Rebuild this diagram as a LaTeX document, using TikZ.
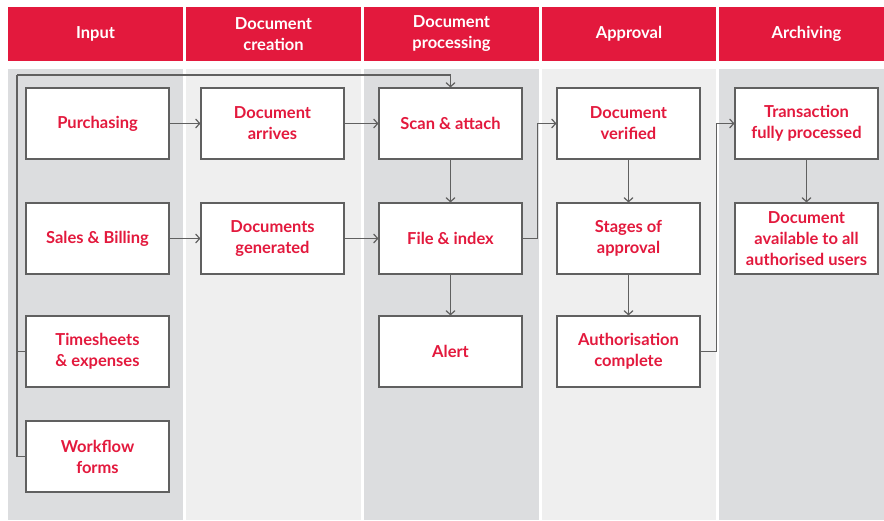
\documentclass[tikz,border=0pt]{standalone}
\usepackage{fontspec}
\setmainfont{Lato}
\usetikzlibrary{arrows.meta}
\definecolor{hdred}{HTML}{E3193D}
\definecolor{bgdark}{HTML}{DCDDDF}
\definecolor{bglight}{HTML}{EFEFEF}
\definecolor{linegray}{HTML}{606060}
\begin{document}
\begin{tikzpicture}[x=1pt,y=-1pt,
  hdr/.style={fill=hdred, text=white, minimum width=175pt, minimum height=54pt, inner sep=0pt, align=center, font=\fontsize{16.5}{21}\selectfont\bfseries},
  box/.style={draw=linegray, line width=1.1pt, fill=white, minimum width=143pt, minimum height=71pt, inner sep=0pt, text=hdred, align=center, font=\fontsize{16.5}{21}\selectfont\bfseries},
  conn/.style={draw=linegray, line width=1.2pt, -{Straight Barb[length=4pt,width=9pt,line width=1.2pt]}},
  plain/.style={draw=linegray, line width=1.2pt}]
\useasboundingbox (0,0) rectangle (884,520);
\clip (0,0) rectangle (884,520);
% column backgrounds
\fill[bgdark]  (8,69) rectangle (183,520);
\fill[bglight] (186,69) rectangle (361,520);
\fill[bgdark]  (364,69) rectangle (539,520);
\fill[bglight] (542,69) rectangle (716,520);
\fill[bgdark]  (719,69) rectangle (894,520);
% headers
\node[hdr] (h1) at (95.5,34) {Input};
\node[hdr] (h2) at (273.5,34) {Document\\creation};
\node[hdr] (h3) at (451.5,34) {Document\\processing};
\node[hdr, minimum width=174pt] (h4) at (629,34) {Approval};
\node[hdr] (h5) at (806.5,34) {Archiving};
% boxes
\node[box] (purch) at (97.5,123.5) {Purchasing};
\node[box] (sales) at (97.5,238.5) {Sales \& Billing};
\node[box] (times) at (97.5,351.5) {Timesheets\\\& expenses};
\node[box] (work)  at (97.5,456.5) {Workflow\\forms};
\node[box] (arrives) at (272.5,123.5) {Document\\arrives};
\node[box] (gen)     at (272.5,238.5) {Documents\\generated};
\node[box] (scan)  at (450.5,123.5) {Scan \& attach};
\node[box] (file)  at (450.5,238.5) {File \& index};
\node[box] (alert) at (450.5,351.5) {Alert};
\node[box] (verif) at (628.5,123.5) {Document\\verified};
\node[box] (stages) at (628.5,238.5) {Stages of\\approval};
\node[box] (auth)  at (628.5,351.5) {Authorisation\\complete};
\node[box] (trans) at (806.5,123.5) {Transaction\\fully processed};
\node[box] (avail) at (806.5,238.5) {Document\\available to all\\authorised users};
% loop coordinates
\coordinate (lt) at (17,75);
% connectors
\draw[plain] (work.west) -| (lt);
\draw[plain] (times.west) -- (times.west -| lt);
\draw[conn] (lt) -| (scan.north);
\draw[conn] (purch) -- (arrives);
\draw[conn] (arrives) -- (scan);
\draw[conn] (sales) -- (gen);
\draw[conn] (gen) -- (file);
\draw[conn] (scan) -- (file);
\draw[conn] (file) -- (alert);
\draw[conn] (file.east) -- ++(15,0) |- (verif.west);
\draw[conn] (verif) -- (stages);
\draw[conn] (stages) -- (auth);
\draw[conn] (auth.east) -- ++(16,0) |- (trans.west);
\draw[conn] (trans) -- (avail);
\end{tikzpicture}
\end{document}
